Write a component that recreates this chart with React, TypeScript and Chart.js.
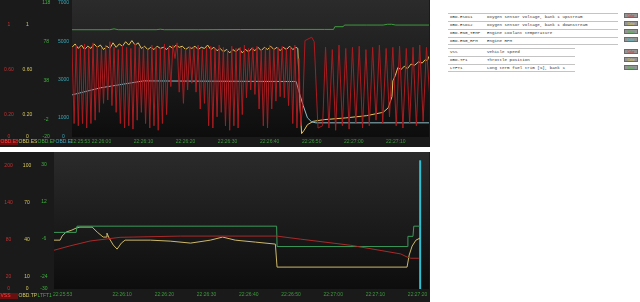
import React, { useEffect, useRef } from 'react';
import { Chart, registerables } from 'chart.js';
Chart.register(...registerables);

// ---------------- TOP PANEL DATA ----------------
// time axis: seconds after 22:25:53
const TOP_T_MAX = 84.9;
const topXTicks = [2.0, 7, 17, 27, 37, 47, 57, 67, 77];
const topXLabels = ['22:25:53', '22:26:00', '22:26:10', '22:26:20', '22:26:30', '22:26:40', '22:26:50', '22:27:00', '22:27:10'];

// OBD.ESO11 (upstream O2, V) sampled every 0.5 s until the throttle closes
const ESO11_STEP = 0.5;
const eso11A = [
  0.80, 0.12, 0.82, 0.10, 0.79, 0.12, 0.83, 0.08, 0.80, 0.12,
  0.84, 0.15, 0.81, 0.22, 0.79, 0.30, 0.82, 0.33, 0.85, 0.28,
  0.80, 0.22, 0.78, 0.12, 0.82, 0.08, 0.80, 0.10, 0.79, 0.07,
  0.83, 0.15, 0.80, 0.22, 0.81, 0.12, 0.78, 0.08, 0.82, 0.10,
  0.80, 0.06, 0.79, 0.12, 0.83, 0.20, 0.80, 0.45, 0.82, 0.70,
  0.84, 0.40, 0.80, 0.30, 0.79, 0.42, 0.81, 0.48, 0.80, 0.40,
  0.82, 0.25, 0.78, 0.30, 0.80, 0.10, 0.81, 0.08, 0.79, 0.18,
  0.82, 0.22, 0.80, 0.10, 0.78, 0.06, 0.81, 0.10, 0.79, 0.08,
  0.80, 0.20, 0.82, 0.35, 0.79, 0.42, 0.80, 0.38, 0.81, 0.25,
  0.78, 0.10, 0.80, 0.08, 0.82, 0.25, 0.79, 0.32, 0.80, 0.36,
  0.81, 0.35, 0.79, 0.28, 0.80, 0.12, 0.82, 0.08,
];
const eso11BTimes = [54.0, 54.4, 54.9, 55.4, 57.0, 57.6, 58.5, 59.6];
const eso11BValues = [0.70, 0.10, 0.30, 0.86, 0.89, 0.85, 0.08, 0.10];
const ESO11_C_START = 60.3;
const ESO11_C_STEP = 0.8;
const eso11C = [
  0.80, 0.08, 0.78, 0.06, 0.82, 0.10, 0.79, 0.07, 0.80, 0.12,
  0.81, 0.08, 0.78, 0.10, 0.80, 0.15, 0.82, 0.12, 0.79, 0.18,
  0.80, 0.10, 0.81, 0.08, 0.79, 0.12, 0.80, 0.10, 0.82, 0.14,
  0.80, 0.35,
];

// OBD.ESO12 (downstream O2, V) every 0.75 s, then irregular after the lift-off
const ESO12_STEP = 0.75;
const eso12A = [
  0.80, 0.83, 0.79, 0.82, 0.78, 0.81, 0.79, 0.83, 0.80, 0.82,
  0.78, 0.81, 0.79, 0.84, 0.80, 0.83, 0.81, 0.85, 0.82, 0.86,
  0.82, 0.84, 0.79, 0.81, 0.78, 0.80, 0.78, 0.81, 0.79, 0.80,
  0.78, 0.81, 0.79, 0.82, 0.80, 0.81, 0.78, 0.80, 0.79, 0.81,
  0.78, 0.80, 0.79, 0.82, 0.78, 0.80, 0.77, 0.79, 0.76, 0.78,
  0.75, 0.78, 0.76, 0.79, 0.75, 0.78, 0.76, 0.79, 0.77, 0.80,
  0.77, 0.80, 0.78, 0.81, 0.78, 0.80, 0.77, 0.80, 0.78, 0.81,
  0.78, 0.80,
];
const eso12BTimes = [53.7, 54.2, 54.6, 55.2, 56.0, 57.4, 60, 65, 70, 74, 75.2, 76.1, 76.3, 76.9, 77.5, 78.2, 79.0, 79.8, 80.6, 81.5, 82.4, 83.3, 84.0, 84.5, 84.9];
const eso12BValues = [0.79, 0.30, 0.03, 0.06, 0.11, 0.14, 0.155, 0.17, 0.19, 0.22, 0.26, 0.36, 0.50, 0.55, 0.62, 0.60, 0.63, 0.61, 0.65, 0.64, 0.67, 0.66, 0.69, 0.68, 0.72];

// OBD.ENG_TEMP (coolant, degC)
const tempTimes = [0, 9, 10, 11, 20, 21, 22, 30, 40, 50, 60, 62.2, 62.5, 64.5, 64.8, 70, 74, 75, 76, 77, 85];
const tempValues = [90.5, 90.5, 91.4, 90.5, 90.5, 91.0, 90.5, 90.5, 90.7, 90.8, 90.8, 90.8, 93.6, 93.6, 95.3, 95.3, 95.3, 96.1, 96.1, 95.3, 95.3];

// OBD.ENG_RPM
const rpmTimes = [0, 6.8, 17, 53.3, 54.2, 55, 56, 57, 58, 85];
const rpmValues = [2200, 2570, 2930, 2900, 2200, 1630, 1000, 790, 740, 740];

// top axes (value ranges and tick labels)
const o2Ticks = [1, 0.6, 0.2, 0];
const o2Labels = ['1', '0.60', '0.20', '0'];
const tempTicks = [118, 78, 38, -2, -20];
const tempLabels = ['118', '78', '38', '-2', '-20'];
const rpmTicks = [7000, 5000, 3000, 1000, 0];
const rpmLabels = ['7000', '5000', '3000', '1000', '0'];

// ---------------- BOTTOM PANEL DATA ----------------
const BOT_T_MIN = 0.85;
const BOT_T_MAX = 89.7;
const botXTicks = [2.9, 17, 27, 37, 47, 57, 67, 77, 87];
const botXLabels = ['22:25:53', '22:26:10', '22:26:20', '22:26:30', '22:26:40', '22:26:50', '22:27:00', '22:27:10', '22:27:20'];

const vssTimes = [0.85, 4.6, 9.4, 16.5, 30.8, 53.6, 59.3, 71.2, 83.0, 84.5, 85.4, 87.3];
const vssValues = [63, 70, 78, 84, 86, 86, 81, 71, 57, 52, 50, 50];

const tpTimes = [0.85, 2.3, 2.75, 3.7, 5.1, 6.1, 7.0, 9.9, 11.1, 12.5, 13.2, 13.4, 13.9, 14.9, 15.8, 16.8, 17.7, 23.7, 28.4, 33.2, 37.9, 40.8, 43.8, 48.6, 53.3, 53.7, 84.5, 85.0, 85.7, 86.6, 87.6];
const tpValues = [39.7, 39.7, 43, 46.2, 47.9, 49.5, 50.3, 50.3, 46.2, 42.2, 42.2, 45.4, 41.4, 35.7, 32.4, 37.3, 39.7, 39.7, 38.9, 37.3, 39.7, 42.2, 39.7, 38.1, 36.5, 17.8, 17.8, 27.6, 34.9, 39.7, 41.4];

const ltftTimes = [0.85, 6.1, 6.3, 53.6, 53.7, 84.5, 84.7, 85.9, 86.1, 87.6];
const ltftValues = [-2.8, -2.8, 0.2, 0.2, -9.6, -9.6, -4.7, -4.7, 0.2, 0.2];

const CURSOR_T = 87.6;
const cursorValues = [0, 104.6];

const vssTicks = [200, 140, 80, 20, 0];
const vssLabels = ['200', '140', '80', '20', '0'];
const tpTicks = [100, 70, 40, 10, 0];
const tpLabels = ['100', '70', '40', '10', '0'];
const ltftTicks = [30, 12, -6, -24, -30];
const ltftLabels = ['30', '12', '-6', '-24', '-30'];

// ---------------- LEGEND ----------------
const legendGroup1 = [
  { id: 'OBD.ESO11', desc: 'Oxygen sensor voltage, bank 1 upstream', color: '#d03030' },
  { id: 'OBD.ESO12', desc: 'Oxygen sensor voltage, bank 1 downstream', color: '#e0d040' },
  { id: 'OBD.ENG_TEMP', desc: 'Engine coolant temperature', color: '#30c030' },
  { id: 'OBD.ENG_RPM', desc: 'Engine RPM', color: '#30c8d8' },
];
const legendGroup2 = [
  { id: 'VSS', desc: 'Vehicle speed', color: '#d03030' },
  { id: 'OBD.TP1', desc: 'Throttle position', color: '#e0d040' },
  { id: 'LTFT1', desc: 'Long term fuel trim [%], bank 1', color: '#30c030' },
];

// ---------------- helpers ----------------
const FONT = 'Liberation Sans';
const X_COLOR = '#3e9a3e';

function pts(times: number[], values: number[]) {
  return times.map((t, i) => ({ x: t, y: values[i] }));
}
function sampled(start: number, step: number, values: number[]) {
  return values.map((v, i) => ({ x: start + i * step, y: v }));
}

function yAxis(o: any) {
  return {
    type: 'linear',
    position: 'left',
    min: o.min,
    max: o.max,
    weight: o.weight,
    grid: { display: false, drawTicks: false },
    border: { display: false },
    afterBuildTicks: (s: any) => { s.ticks = o.ticks.map((v: number) => ({ value: v })); },
    afterFit: (s: any) => { s.width = o.width; s.paddingTop = 0; s.paddingBottom = 0; },
    ticks: {
      color: o.color,
      font: { size: 5, family: FONT },
      padding: o.padding,
      crossAlign: 'center',
      autoSkip: false,
      callback: (_v: any, i: number) => o.labels[i],
    },
  };
}

function xAxis(o: any) {
  return {
    type: 'linear',
    position: 'bottom',
    min: o.min,
    max: o.max,
    grid: { display: false, drawTicks: false },
    border: { display: false },
    afterBuildTicks: (s: any) => { s.ticks = o.ticks.map((v: number) => ({ value: v })); },
    afterFit: (s: any) => { s.height = o.height; s.paddingLeft = 0; s.paddingRight = 0; },
    ticks: {
      color: X_COLOR,
      font: { size: 5, family: FONT },
      padding: o.padding,
      autoSkip: false,
      maxRotation: 0,
      callback: (_v: any, i: number) => o.labels[i],
    },
  };
}

const panelBg = {
  id: 'panelBg',
  beforeDraw(chart: any) {
    const { ctx, chartArea: a, width, height } = chart;
    ctx.save();
    ctx.fillStyle = '#1a1a1a';
    ctx.fillRect(0, 0, width, height);
    const g = ctx.createLinearGradient(0, 0, 0, a.bottom);
    g.addColorStop(0, '#2b2b2b');
    g.addColorStop(1, '#0d0d0d');
    ctx.fillStyle = g;
    ctx.fillRect(a.left, 0, a.right - a.left, a.bottom);
    ctx.restore();
  },
};

const axisNames = {
  id: 'axisNames',
  afterDraw(chart: any, _args: any, opts: any) {
    const { ctx } = chart;
    (opts.names || []).forEach((n: any) => {
      const s = chart.scales[n.scale];
      if (!s) return;
      ctx.save();
      ctx.beginPath();
      ctx.rect(s.left, chart.chartArea.bottom + 1, s.width, chart.height);
      ctx.clip();
      if (n.bg) {
        ctx.fillStyle = n.bg;
        ctx.fillRect(s.left, opts.y - 3, s.width, 6);
      }
      ctx.fillStyle = n.color;
      ctx.font = `5px ${FONT}`;
      ctx.textBaseline = 'middle';
      ctx.textAlign = 'left';
      ctx.fillText(n.text, s.left + 0.5, opts.y);
      ctx.restore();
    });
  },
};

function line(label: string, data: any[], color: string, yAxisID: string, width = 1) {
  return {
    label, data, yAxisID, xAxisID: 'x',
    borderColor: color, backgroundColor: color, borderWidth: width,
    pointRadius: 0, tension: 0, fill: false,
  };
}

function useChart(ref: any, config: () => any) {
  useEffect(() => {
    const chart = new Chart(ref.current, config());
    return () => chart.destroy();
  }, []);
}

function TopPanel() {
  const ref = useRef<HTMLCanvasElement>(null);
  useChart(ref, () => ({
    type: 'line',
    data: {
      datasets: [
        line('OBD.ESO11', [
          ...sampled(0, ESO11_STEP, eso11A),
          ...pts(eso11BTimes, eso11BValues),
          ...sampled(ESO11_C_START, ESO11_C_STEP, eso11C),
        ], '#a81c20', 'yEso11'),
        line('OBD.ENG_TEMP', pts(tempTimes, tempValues), '#3f9a3f', 'yTemp'),
        line('OBD.ENG_RPM', pts(rpmTimes, rpmValues), '#93bcc6', 'yRpm'),
        line('OBD.ESO12', [
          ...sampled(0, ESO12_STEP, eso12A),
          ...pts(eso12BTimes, eso12BValues),
        ], '#e9c35e', 'yEso12'),
      ],
    },
    options: {
      responsive: false,
      animation: false,
      devicePixelRatio: 1,
      layout: { padding: { top: 0, right: 1, bottom: 0, left: 0 } },
      plugins: {
        legend: { display: false },
        tooltip: { enabled: false },
        axisNames: {
          y: 142,
          names: [
            { scale: 'yEso11', text: 'OBD.ESO11', color: '#ff4040', bg: '#6a1010' },
            { scale: 'yEso12', text: 'OBD.ESO12', color: '#d8c860' },
            { scale: 'yTemp', text: 'OBD.ENG_TEMP', color: '#40b040' },
            { scale: 'yRpm', text: 'OBD.ENG_RPM', color: '#40a8c0' },
          ],
        },
      },
      scales: {
        x: xAxis({ min: 0, max: TOP_T_MAX, ticks: topXTicks, labels: topXLabels, height: 10, padding: 2 }),
        yRpm: yAxis({ min: 0, max: 7157, ticks: rpmTicks, labels: rpmLabels, color: '#3aa8b8', width: 17, padding: 3, weight: 1 }),
        yTemp: yAxis({ min: -20, max: 121.1, ticks: tempTicks, labels: tempLabels, color: '#3fb03f', width: 18, padding: 4.8, weight: 2 }),
        yEso12: yAxis({ min: 0, max: 1.222, ticks: o2Ticks, labels: o2Labels, color: '#d8c860', width: 19, padding: 4.7, weight: 3 }),
        yEso11: yAxis({ min: 0, max: 1.222, ticks: o2Ticks, labels: o2Labels, color: '#c83030', width: 18, padding: 4.2, weight: 4 }),
      },
    },
    plugins: [panelBg, axisNames],
  }));
  return <canvas ref={ref} width={430} height={147} style={{ position: 'absolute', left: 0, top: 0 }} />;
}

function BottomPanel() {
  const ref = useRef<HTMLCanvasElement>(null);
  useChart(ref, () => ({
    type: 'line',
    data: {
      datasets: [
        line('VSS', pts(vssTimes, vssValues), '#a82a2a', 'yVss'),
        line('LTFT1', pts(ltftTimes, ltftValues), '#3c9a5a', 'yLtft'),
        line('OBD.TP1', pts(tpTimes, tpValues), '#cdb86a', 'yTp'),
        line('cursor', [{ x: CURSOR_T, y: cursorValues[0] }, { x: CURSOR_T, y: cursorValues[1] }], '#2ec0d0', 'yTp', 2),
      ],
    },
    options: {
      responsive: false,
      animation: false,
      devicePixelRatio: 1,
      layout: { padding: { top: 3, right: 1, bottom: 0, left: 0 } },
      plugins: {
        legend: { display: false },
        tooltip: { enabled: false },
        axisNames: {
          y: 144,
          names: [
            { scale: 'yVss', text: 'VSS', color: '#ff4040', bg: '#6a1010' },
            { scale: 'yTp', text: 'OBD.TP1', color: '#d8c860' },
            { scale: 'yLtft', text: 'LTFT1', color: '#40b040' },
          ],
        },
      },
      scales: {
        x: xAxis({ min: BOT_T_MIN, max: BOT_T_MAX, ticks: botXTicks, labels: botXLabels, height: 13, padding: 2.5 }),
        yLtft: yAxis({ min: -30, max: 34.4, ticks: ltftTicks, labels: ltftLabels, color: '#3fb03f', width: 17, padding: 6.4, weight: 1 }),
        yTp: yAxis({ min: 0, max: 108.9, ticks: tpTicks, labels: tpLabels, color: '#d8c860', width: 19, padding: 5.8, weight: 2 }),
        yVss: yAxis({ min: 0, max: 217.8, ticks: vssTicks, labels: vssLabels, color: '#c83030', width: 18, padding: 5.3, weight: 3 }),
      },
    },
    plugins: [panelBg, axisNames],
  }));
  return <canvas ref={ref} width={430} height={150} style={{ position: 'absolute', left: 0, top: 152 }} />;
}

function LegendTable({ rows, top, width }: any) {
  return (
    <div style={{ position: 'absolute', left: 448, top, width }}>
      {rows.map((r: any, i: number) => (
        <div key={r.id} style={{
          height: 8, boxSizing: 'border-box', borderTop: '1px solid #c4c4c4',
          borderBottom: i === rows.length - 1 ? '1px solid #c4c4c4' : 'none',
          position: 'relative', fontFamily: 'Liberation Mono', fontSize: 4.2, color: '#333', lineHeight: '7px',
          whiteSpace: 'nowrap',
        }}>
          <span style={{ position: 'absolute', left: 2 }}>{r.id}</span>
          <span style={{ position: 'absolute', left: 39 }}>{r.desc}</span>
        </div>
      ))}
    </div>
  );
}

function ColorButtons({ rows, top }: any) {
  return (
    <div style={{ position: 'absolute', left: 624, top }}>
      {rows.map((r: any) => (
        <div key={r.id} style={{
          width: 14, height: 5, marginBottom: 3, boxSizing: 'border-box', background: '#959595',
          border: '0.5px solid #6a6a6a', color: r.color, fontFamily: FONT, fontSize: 3,
          lineHeight: '4.5px', textAlign: 'center',
        }}>Color</div>
      ))}
    </div>
  );
}

export default function App() {
  return (
    <div style={{ position: 'absolute', left: 0, top: 0, width: 640, height: 302, background: '#fff', overflow: 'hidden' }}>
      <TopPanel />
      <BottomPanel />
      <LegendTable rows={legendGroup1} top={12.7} width={170} />
      <LegendTable rows={legendGroup2} top={48} width={127} />
      <ColorButtons rows={legendGroup1} top={12.7} />
      <ColorButtons rows={legendGroup2} top={49.3} />
    </div>
  );
}
